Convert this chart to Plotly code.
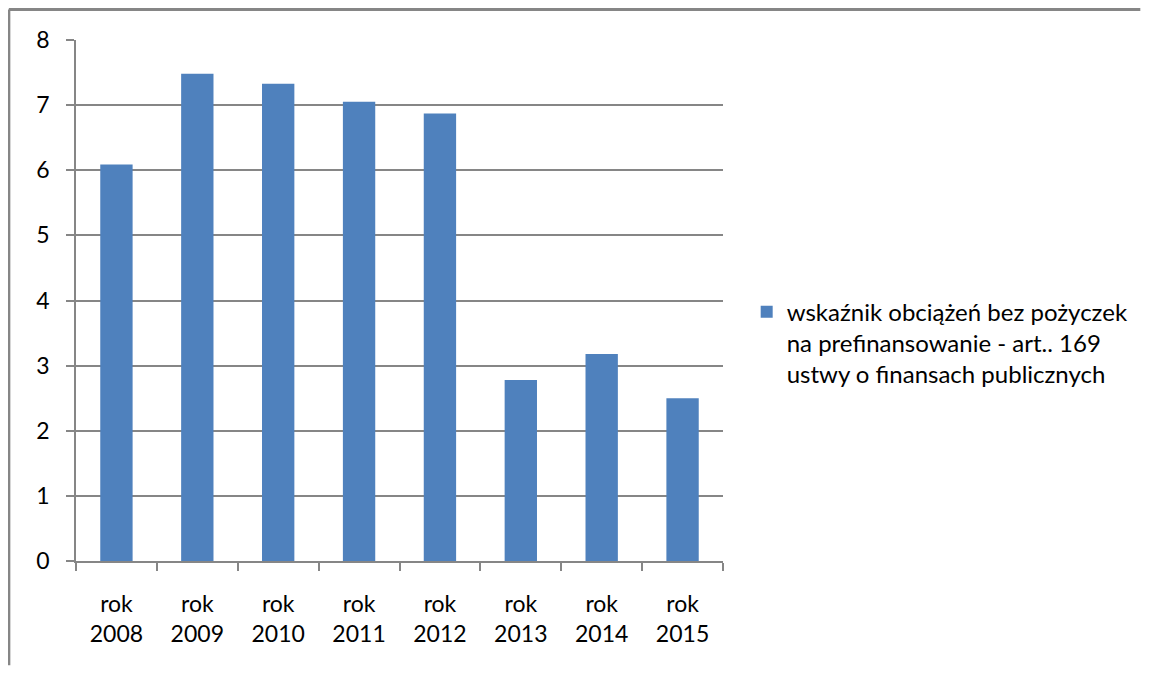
import plotly.graph_objects as go

categories = ["rok<br>2008", "rok<br>2009", "rok<br>2010", "rok<br>2011",
              "rok<br>2012", "rok<br>2013", "rok<br>2014", "rok<br>2015"]
values = [6.09, 7.48, 7.33, 7.05, 6.87, 2.78, 3.18, 2.50]
series_name = "wskaźnik obciążeń bez pożyczek<br>na prefinansowanie - art.. 169<br>ustwy o finansach publicznych"
y_ticks = [0, 1, 2, 3, 4, 5, 6, 7, 8]

GRID = "#868686"
FONT = "Lato"

fig = go.Figure()
fig.add_trace(go.Bar(x=categories, y=values, name=series_name,
                     marker=dict(color="#4F81BD", line=dict(width=0)),
                     showlegend=True))

fig.update_layout(
    width=1137, height=659,
    margin=dict(l=68, r=421, t=32, b=106),
    paper_bgcolor="white", plot_bgcolor="white",
    bargap=0.6,
    font=dict(family=FONT, size=23, color="#000000"),
    showlegend=True,
    legend=dict(x=1.035, y=0.521, xanchor="left", yanchor="top",
                valign="top", font=dict(family=FONT, size=24, color="#000000"),
                itemwidth=30, tracegroupgap=0, bgcolor="rgba(0,0,0,0)"),
    xaxis=dict(showline=True, linecolor=GRID, linewidth=1.5,
               ticks="outside", tickson="boundaries", ticklen=8,
               tickcolor=GRID, tickwidth=1.5,
               tickfont=dict(family=FONT, size=23), showgrid=False,
               ticklabelstandoff=22),
    yaxis=dict(range=[0, 8], tickvals=y_ticks, showline=True, linecolor=GRID,
               linewidth=1.5, ticks="outside", ticklen=8, tickcolor=GRID,
               tickwidth=1.5, showgrid=True, gridcolor=GRID, gridwidth=1.5,
               zeroline=False, tickfont=dict(family=FONT, size=23),
               ticklabelstandoff=12),
)

# outer chart frame (left and top edges visible in the reference)
fig.add_shape(type="line", xref="paper", yref="paper",
              x0=-0.1038, x1=-0.1038, y0=-0.2, y1=1.0585,
              line=dict(color=GRID, width=3), layer="below")
fig.add_shape(type="line", xref="paper", yref="paper",
              x0=-0.1038, x1=1.645, y0=1.0585, y1=1.0585,
              line=dict(color=GRID, width=3), layer="below")

fig.write_html("out.html")
